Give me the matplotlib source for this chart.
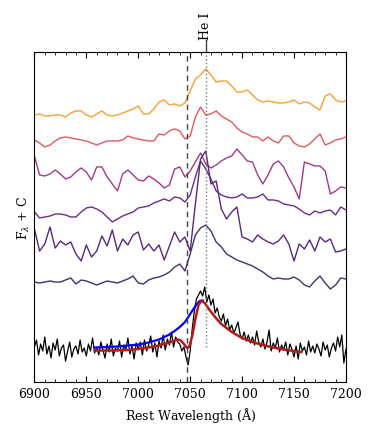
import numpy as np
import matplotlib
matplotlib.use("Agg")
import matplotlib.pyplot as plt
from matplotlib.ticker import MultipleLocator

plt.rcParams['font.family'] = ['DejaVu Serif']
plt.rcParams['mathtext.fontset'] = 'dejavuserif'

# wavelength grids (Angstrom)
wave = np.arange(6900, 7201, 5)
wave_obs = np.arange(6900, 7201, 2)

# flux of the comparison spectra (arbitrary units, relative to their own continuum)
f_orange = [1, 2, 0, 0, 1, 1, -1, 3, 5, 5, 1, -1, 2, 5, 1, 0, 1, 3, 5, 7,
            10, 2, 2, 7, 14, 16, 11, 12, 10, 13, 25, 37, 41, 47, 41, 34, 35, 35, 30, 24,
            24, 26, 21, 16, 14, 15, 14, 13, 13, 14, 16, 12, 14, 13, 9, 6, 20, 22, 16, 14, 15]
f_red = [1, -2, -6, -4, 0, 3, 4, 3, 2, 1, 0, -2, -4, -2, 0, 0, 0, 1, 5, 3,
         2, 1, 0, 0, 7, 6, 10, 12, 10, 2, 5, 24, 34, 26, 27, 30, 25, 22, 19, 13,
         9, 7, 4, 4, 0, 4, 0, -2, 5, 5, -2, -5, -6, -3, 2, 7, -4, -2, 1, 2, 4]
f_magenta = [20, 1, 0, 2, 6, 2, -3, -1, 4, 8, 4, -4, 9, 9, -1, -8, -15, 2, 6, 1,
             -4, -5, 0, -3, -7, -12, -9, 7, 9, -1, 5, 14, 23, 12, 8, 11, 15, 18, 20, 27,
             21, 15, 14, 1, -8, 1, 12, 15, 9, -2, -11, -23, 14, 12, 10, 10, 5, -18, -15, -11, -12]
f_purple1 = [0, -6, -5, -4, -2, -2, -3, -5, -5, 0, 4, 5, 3, 0, -5, -10, -7, -4, -2, 0,
             4, 5, 6, 9, 11, 13, 11, 15, 14, 10, 17, 35, 51, 43, 33, 21, 17, 15, 14, 15,
             18, 14, 14, 15, 18, 12, 12, 11, 8, 7, 6, 3, -1, -3, 1, -1, 1, 2, -3, 5, 2]
f_purple2 = [15, -7, 0, 17, -4, 3, -1, 2, -10, -17, -1, -13, -7, 8, -2, 14, -7, 5, -1, 9,
             12, -6, 0, -7, -1, -16, -2, 12, 2, 7, -7, 40, 85, 93, 60, 63, 35, 25, 32, 37,
             7, 5, 2, 9, 5, 2, 0, 3, 9, 0, -17, 0, -5, 4, -7, 7, 2, 5, -8, -7, -5]
f_purple3 = [-1, -2, -1, 0, -1, -1, 1, 3, -3, 1, 0, -2, -4, -2, 0, -1, -2, 0, 2, 5,
             -2, -3, 1, 3, 4, 6, 9, 14, 17, 10, 27, 46, 53, 56, 50, 39, 34, 27, 24, 21,
             19, 17, 15, 12, 9, 5, 2, 3, 2, 2, 4, 1, -4, -6, 0, 5, -2, -8, -4, 3, 2]

# observed spectrum (black)
f_obs = [2, 9, -6, 5, -2, 12, -5, 3, -9, 6, -1, 10, -7, 1, 4, -12, -2, 7, -8, 0,
         3, -5, 9, -3, 1, -7, 5, -2, 11, -4, 2, -6, 7, -1, -9, 5, -3, 10, -7, 1,
         -2, 8, -8, 4, -1, 11, -5, 3, -10, 6, 0, 7, -6, 9, -2, 4, 13, -3, 6, -8,
         8, 1, 14, -1, 10, 4, 17, 2, 12, 7, 5, -2, 2, -8, -16, -2, 20, 38, 50, 54,
         58, 53, 62, 47, 54, 44, 50, 36, 41, 32, 28, 35, 23, 30, 19, 24, 16, 21, 27, 15,
         10, 17, 8, 14, 6, 12, 4, 18, 7, 2, 10, 0, 7, 19, -2, 6, 1, 11, -3, 4,
         -1, 7, -6, 5, 0, -8, 3, -10, 6, -2, 2, -6, 8, -3, 3, -4, 5, 0, -7, 7,
         -1, 4, -8, 1, 6, -2, 12, 2, 14, -14, 0]

# model fits
wave_red = [6958, 6970, 6980, 6990, 7000, 7010, 7020, 7030, 7035, 7038, 7041, 7044, 7047,
            7049, 7052, 7055, 7058, 7061, 7064, 7068, 7072, 7076, 7080, 7085, 7090, 7095,
            7100, 7110, 7120, 7130, 7140, 7150, 7157]
f_red_model = [-1.5, -1.5, -1.3, -1, 0, 1.5, 3.5, 6.5, 8.5, 9.5, 8.5, 5, 1,
               2, 13, 30, 44, 48.5, 46, 40, 34.5, 29.5, 25, 21, 17, 14,
               11, 7, 4, 1.5, -0.5, -2, -3]
wave_blue = [6958, 6970, 6980, 6990, 7000, 7010, 7020, 7030, 7035, 7040, 7045, 7050, 7055, 7059, 7062]
f_blue_model = [1.5, 2, 2.5, 3.5, 4.5, 6.5, 9.5, 14.5, 18, 22, 27, 35, 43, 48, 48.5]

# offsets C
spectra = [f_orange, f_red, f_magenta, f_purple1, f_purple2, f_purple3]
offsets = [266, 241, 206, 170, 138, 101]
colors = ['#f7a035', '#df5a5e', '#a23a86', '#6a2d8e', '#55297f', '#45306f']
C_obs = 33

he1 = 7065.
feature = 7047.

fig = plt.figure(figsize=(3.74, 4.27), dpi=100)
ax = fig.add_axes([0.092, 0.103, 0.833, 0.773])

for f, c, col in zip(spectra, offsets, colors):
    ax.plot(wave, np.array(f) + c, color=col, lw=1.0)

ax.plot(wave_obs, np.array(f_obs) + C_obs, color='black', lw=0.9)
ax.plot(wave_blue, np.array(f_blue_model) + C_obs, color='blue', lw=1.6)
ax.plot(wave_red, np.array(f_red_model) + C_obs, color='#b01c1c', lw=1.8)

ax.axvline(feature, color='#444444', ls=(0, (4, 3)), lw=1.0)
ax.axvline(he1, ymin=0.106, ymax=1.0, color='#777777', ls=':', lw=1.0)
ax.plot([he1, he1], [1.0, 1.036], color='#444444', lw=1.0,
        transform=ax.get_xaxis_transform(), clip_on=False)
ax.text(he1, 1.04, 'He I', rotation=90, ha='center', va='bottom',
        fontsize=9, transform=ax.get_xaxis_transform())

ax.set_xlim(6900, 7200)
ax.set_ylim(0, 330)
ax.xaxis.set_major_locator(MultipleLocator(50))
ax.xaxis.set_minor_locator(MultipleLocator(10))
ax.tick_params(axis='x', which='both', direction='in', top=True, labelsize=9)
ax.tick_params(axis='x', which='major', length=4)
ax.tick_params(axis='x', which='minor', length=2)
ax.set_yticks([])
ax.set_xlabel(r'Rest Wavelength ($\mathrm{\AA}$)', fontsize=9)
ax.set_ylabel(r'F$_\lambda$ + C', fontsize=9, labelpad=2)

fig.savefig('out.png', dpi=100)
